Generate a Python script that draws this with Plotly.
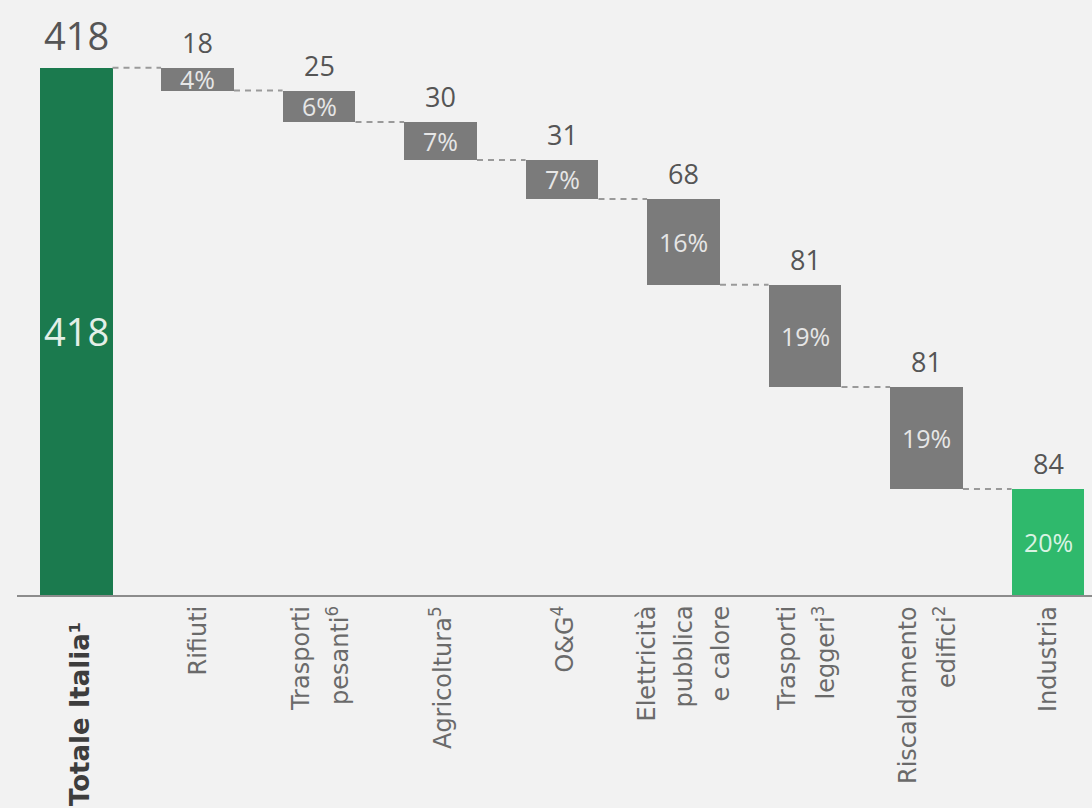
import plotly.graph_objects as go

# ---- data ----
categories = ["Totale Italia¹", "Rifiuti", "Trasporti pesanti⁶", "Agricoltura⁵", "O&G⁴",
              "Elettricità pubblica e calore", "Trasporti leggeri³", "Riscaldamento edifici²", "Industria"]
label_lines = [
    ["Totale Italia¹"],
    ["Rifiuti"],
    ["Trasporti", "pesanti<sup>6</sup>"],
    ["Agricoltura<sup>5</sup>"],
    ["O&amp;G<sup>4</sup>"],
    ["Elettricità", "pubblica", "e calore"],
    ["Trasporti", "leggeri<sup>3</sup>"],
    ["Riscaldamento", "edifici<sup>2</sup>"],
    ["Industria"],
]
values = [418, 18, 25, 30, 31, 68, 81, 81, 84]
percents = ["", "4%", "6%", "7%", "7%", "16%", "19%", "19%", "20%"]
bar_colors = ["#1b7a4e", "#7b7b7b", "#7b7b7b", "#7b7b7b", "#7b7b7b",
              "#7b7b7b", "#7b7b7b", "#7b7b7b", "#2fb96c"]
pct_colors = ["#e3efe8", "#e6e6e6", "#e6e6e6", "#e6e6e6", "#e6e6e6",
              "#e6e6e6", "#e6e6e6", "#e6e6e6", "#d9f3e3"]

# ---- waterfall geometry from data ----
idx = list(range(len(values)))
bases = []
levels = []
running = 0
for i, v in enumerate(values):
    if i == 0:
        bases.append(0)
        running = v
    else:
        running -= v
        bases.append(running)
    levels.append(running)
tops = [b + v for b, v in zip(bases, values)]

BAR_W = 0.6
FONT = "Open Sans"
LABEL_FONT = "DejaVu Sans"

fig = go.Figure()
fig.add_trace(go.Bar(x=idx, y=values, base=bases, width=BAR_W,
                     marker=dict(color=bar_colors, line=dict(width=0)),
                     hoverinfo="skip", showlegend=False))

# connectors
for i in range(len(values) - 1):
    fig.add_shape(type="line", xref="x", yref="y",
                  x0=i + BAR_W / 2, x1=i + 1 - BAR_W / 2,
                  y0=levels[i], y1=levels[i],
                  line=dict(color="#9a9a9a", width=2, dash="6px,5px"))

annotations = []
# value labels above bars
for i, (t, v) in enumerate(zip(tops, values)):
    big = i == 0
    annotations.append(dict(x=i, y=t, xref="x", yref="y", text=str(v), showarrow=False,
                            yanchor="bottom", yshift=5,
                            font=dict(family=FONT, size=38 if big else 27, color="#555555")))
# inside labels
for i, (b, v, p) in enumerate(zip(bases, values, percents)):
    txt = str(v) if i == 0 else p
    annotations.append(dict(x=i, y=b + v / 2, xref="x", yref="y", text=txt, showarrow=False,
                            font=dict(family=FONT, size=38 if i == 0 else 25, color=pct_colors[i])))
# category labels (rotated)
LINE_GAP = 37
for i, lines in enumerate(label_lines):
    n = len(lines)
    for j, ln in enumerate(lines):
        first = i == 0
        annotations.append(dict(
            x=i, y=0, xref="x", yref="paper", text=("<b>%s</b>" % ln) if first else ln,
            showarrow=False, textangle=-90, xanchor="center", yanchor="top",
            xshift=(j - (n - 1) / 2) * LINE_GAP + (4 if first else 0),
            yshift=-25 if first else -9,
            font=dict(family=LABEL_FONT, size=26 if first else 24,
                      color="#3d3d3d" if first else "#6a6a6a")))

fig.update_layout(
    width=1092, height=808,
    margin=dict(l=17, r=0, t=0, b=213),
    paper_bgcolor="#f2f2f2", plot_bgcolor="#f2f2f2",
    xaxis=dict(range=[-0.486, 8.362], showticklabels=False, showgrid=False, zeroline=False,
               showline=True, linecolor="#8c8c8c", linewidth=2, ticks=""),
    yaxis=dict(range=[0, 471.8], visible=False, showgrid=False),
    annotations=annotations,
    bargap=0,
)

fig.write_html("out.html")
